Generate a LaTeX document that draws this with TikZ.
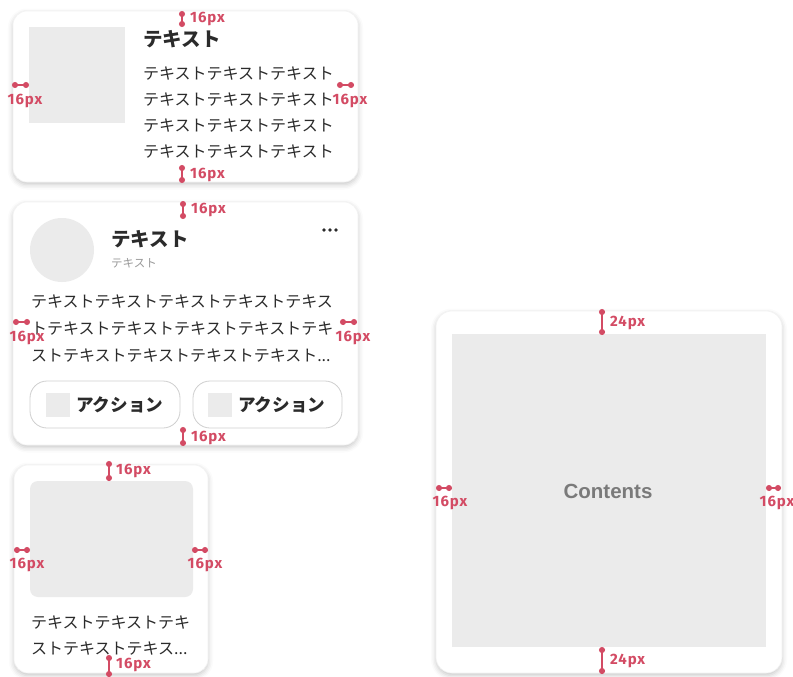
\documentclass[tikz,border=0pt]{standalone}
\usepackage{fontspec}
\newfontfamily\jp{Noto Sans CJK JP}
\newfontfamily\lab[LetterSpace=6]{Fira Sans}
\newfontfamily\lsans{Liberation Sans}
\usetikzlibrary{shadows.blur,arrows.meta}
\definecolor{mark}{HTML}{D34B64}
\definecolor{ph}{HTML}{EBEBEB}
\definecolor{txt}{HTML}{2B2B2B}
\definecolor{subt}{HTML}{9A9A9A}
\definecolor{btnb}{HTML}{CFCFCF}
\tikzset{
  card/.style={fill=white, draw=black!5, line width=0.6pt, rounded corners=14pt,
    blur shadow={shadow xshift=0pt, shadow yshift=-2.5pt, shadow blur radius=5pt, shadow opacity=22}},
  phbox/.style={fill=ph, draw=none},
  body/.style={anchor=west, inner sep=0, text=txt, font=\jp\fontsize{16}{18}\selectfont},
  title/.style={anchor=west, inner sep=0, text=txt, font=\jp\bfseries\fontsize{19.5}{22}\selectfont},
  mline/.style={draw=mark, line width=1.4pt, {Circle[length=6pt]}-{Circle[length=6pt]}},
  mlabel/.style={text=mark, inner sep=0, font=\lab\bfseries\fontsize{15}{16}\selectfont},
  btn/.style={fill=white, draw=btnb, line width=0.8pt, rounded corners=17pt},
  btntext/.style={anchor=west, inner sep=0, text=txt, font=\jp\bfseries\fontsize{17.6}{20}\selectfont}
}
\begin{document}
\begin{tikzpicture}[x=1pt,y=-1pt]
\useasboundingbox (0,0) rectangle (793,677);

% ---------- Card 1 ----------
\draw[card] (13,11) rectangle (358,182);
\fill[phbox] (29,27) rectangle (125,123);
\node[title] (c1title) at (143,39) {テキスト};
\node[body] (c1l1) at (143,74) {テキストテキストテキスト};
\node[body] (c1l2) at (143,100) {テキストテキストテキスト};
\node[body] (c1l3) at (143,126) {テキストテキストテキスト};
\node[body] (c1l4) at (143,152) {テキストテキストテキスト};

% ---------- Card 2 ----------
\draw[card] (13,202) rectangle (358,445);
\fill[ph] (62,250) circle (32);
\node[title] (c2title) at (111,239) {テキスト};
\node[anchor=west, inner sep=0, text=subt, font=\jp\fontsize{11.5}{13}\selectfont] (c2sub) at (111,263) {テキスト};
\fill[txt] (324,230) circle (1.9) (330,230) circle (1.9) (336,230) circle (1.9);
\node[body] (c2l1) at (31,302) {テキストテキストテキストテキストテキス};
\node[body] (c2l2) at (31,329) {トテキストテキストテキストテキストテキ};
\node[body] (c2l3) at (31,356) {ストテキストテキストテキストテキスト...};
\draw[btn] (30,381) rectangle (180,428);
\fill[phbox] (46,393) rectangle (70,417);
\node[btntext] (b1) at (76,405) {アクション};
\draw[btn] (193,381) rectangle (342,428);
\fill[phbox] (208,393) rectangle (232,417);
\node[btntext] (b2) at (238,405) {アクション};

% ---------- Card 3 ----------
\draw[card] (14,465) rectangle (208,673);
\fill[phbox, rounded corners=8pt] (30,481) rectangle (193,597);
\node[body] (c3l1) at (31,623) {テキストテキストテキ};
\node[body] (c3l2) at (31,649) {ストテキストテキス...};

% ---------- Card 4 ----------
\draw[card, rounded corners=16pt] (436,311) rectangle (782,673);
\fill[phbox] (452,334) rectangle (766,647);
\node[text=black!52, inner sep=0, font=\lsans\bfseries\fontsize{20.5}{24}\selectfont] (cont) at (608,491) {Contents};

% ---------- Markers ----------
% card 1
\coordinate (a1) at (182,11); \coordinate (a2) at (182,27);
\draw[mline] (a1) -- (a2); \node[mlabel, anchor=west] (la) at (190,19) {16px};
\coordinate (b1p) at (12,85); \coordinate (b2p) at (29,85);
\draw[mline] (b1p) -- (b2p); \node[mlabel] (lb) at (25,101) {16px};
\coordinate (c1p) at (337,85); \coordinate (c2p) at (354,85);
\draw[mline] (c1p) -- (c2p); \node[mlabel] (lc) at (350,101) {16px};
\coordinate (d1) at (182,165); \coordinate (d2) at (182,183);
\draw[mline] (d1) -- (d2); \node[mlabel, anchor=west] (ld) at (190,175) {16px};
% card 2
\coordinate (e1) at (183,201); \coordinate (e2) at (183,219);
\draw[mline] (e1) -- (e2); \node[mlabel, anchor=west] (le) at (191,210) {16px};
\coordinate (f1) at (13,322); \coordinate (f2) at (30,322);
\draw[mline] (f1) -- (f2); \node[mlabel] (lf) at (27,338) {16px};
\coordinate (g1) at (340,322); \coordinate (g2) at (357,322);
\draw[mline] (g1) -- (g2); \node[mlabel] (lg) at (353,338) {16px};
\coordinate (h1) at (183,427); \coordinate (h2) at (183,446);
\draw[mline] (h1) -- (h2); \node[mlabel, anchor=west] (lh) at (191,438) {16px};
% card 3
\coordinate (i1) at (109,461); \coordinate (i2) at (109,481);
\draw[mline] (i1) -- (i2); \node[mlabel, anchor=west] (li) at (116,471) {16px};
\coordinate (j1) at (14,550); \coordinate (j2) at (30,550);
\draw[mline] (j1) -- (j2); \node[mlabel] (lj) at (27,565) {16px};
\coordinate (k1) at (192,550); \coordinate (k2) at (208,550);
\draw[mline] (k1) -- (k2); \node[mlabel] (lk) at (205,565) {16px};
\coordinate (l1) at (109,655); \coordinate (l2) at (109,677);
\draw[mline] (l1) -- (l2); \node[mlabel, anchor=west] (ll) at (116,665) {16px};
% card 4
\coordinate (m1) at (602,309); \coordinate (m2) at (602,335);
\draw[mline] (m1) -- (m2); \node[mlabel, anchor=west] (lm) at (610,323) {24px};
\coordinate (n1) at (602,647); \coordinate (n2) at (602,674);
\draw[mline] (n1) -- (n2); \node[mlabel, anchor=west] (ln) at (610,661) {24px};
\coordinate (o1) at (436,488); \coordinate (o2) at (452,488);
\draw[mline] (o1) -- (o2); \node[mlabel] (lo) at (450,503) {16px};
\coordinate (q1) at (766,488); \coordinate (q2) at (781,488);
\draw[mline] (q1) -- (q2); \node[mlabel] (lq) at (777,503) {16px};
\end{tikzpicture}
\end{document}
